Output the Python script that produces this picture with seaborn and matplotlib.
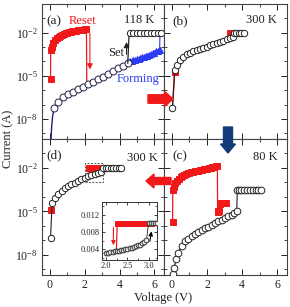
import matplotlib
matplotlib.use("Agg")
import matplotlib.pyplot as plt
import seaborn as sns
from matplotlib.patches import FancyArrow, Rectangle
from matplotlib.ticker import FixedLocator, NullFormatter

# ---- data -------------------------------------------------------------
# panel (a) 118 K
A_HRS_V = [0.05, 0.10, 0.16, 0.25, 0.48, 0.76, 1.05, 1.33, 1.62, 1.90, 2.19,
           2.48, 2.76, 3.05, 3.33, 3.62, 3.90, 4.19, 4.47]
A_HRS_I = [1e-10, 2.5e-9, 1.6e-8, 5.8e-8, 1.6e-7, 3.2e-7, 5.1e-7, 7.8e-7,
           1.15e-6, 1.7e-6, 2.6e-6, 3.9e-6, 6.0e-6, 8.7e-6, 1.35e-5, 2.1e-5,
           3.3e-5, 5.0e-5, 7.4e-5]
A_SET_V = [4.47, 4.55, 4.60, 4.80, 5.00, 5.20, 5.40, 5.60, 5.80, 6.00, 6.20, 6.40]
A_SET_I = [7.4e-5, 0.01, 0.01, 0.01, 0.01, 0.01, 0.01, 0.01, 0.01, 0.01, 0.01, 0.01]
A_FORM_V = [4.50, 4.60, 4.70, 4.80, 4.90, 5.00, 5.10, 5.20, 5.30, 5.40, 5.50,
            5.60, 5.70, 5.80, 5.90, 6.00, 6.10, 6.20, 6.30, 6.32]
A_FORM_I = [8.9e-5, 1.0e-4, 1.07e-4, 1.17e-4, 1.32e-4, 1.38e-4, 1.58e-4,
            1.66e-4, 2.0e-4, 2.04e-4, 2.4e-4, 2.5e-4, 3.0e-4, 3.2e-4, 4.0e-4,
            3.6e-4, 5.0e-4, 5.2e-4, 6.6e-4, 0.01]
A_RESET_V = [0.04, 0.05, 0.10, 0.20, 0.30, 0.40, 0.50, 0.60, 0.70, 0.80, 0.90,
             1.00, 1.10, 1.20, 1.30, 1.40, 1.50, 1.60, 1.70, 1.80, 1.90, 2.00,
             2.10, 2.12, 2.19, 2.48, 2.76, 3.05, 3.33]
A_RESET_I = [6.0e-6, 6.3e-4, 1.1e-3, 1.9e-3, 3.0e-3, 4.2e-3, 5.2e-3, 6.3e-3,
             7.2e-3, 8.1e-3, 9.1e-3, 1.0e-2, 1.07e-2, 1.15e-2, 1.23e-2, 1.32e-2,
             1.38e-2, 1.45e-2, 1.51e-2, 1.58e-2, 1.66e-2, 1.70e-2, 1.74e-2,
             2.7e-6, 2.8e-6, 4.1e-6, 6.3e-6, 9.1e-6, 1.4e-5]

# panel (b) 300 K
B_HRS_V = [0.03, 0.17, 0.30, 0.46, 0.65, 0.84, 1.03, 1.22, 1.41, 1.60, 1.79,
           1.98, 2.17, 2.36, 2.55, 2.74, 2.93, 3.12, 3.31, 3.47, 3.52, 3.65,
           3.80, 3.95, 4.10]
B_HRS_I = [5.8e-8, 2.5e-5, 5.6e-5, 1.26e-4, 2.1e-4, 3.2e-4, 4.0e-4, 5.0e-4,
           6.3e-4, 7.6e-4, 9.1e-4, 1.1e-3, 1.32e-3, 1.62e-3, 2.04e-3, 2.4e-3,
           2.8e-3, 3.4e-3, 4.1e-3, 5.0e-3, 0.01, 0.01, 0.01, 0.01, 0.01]
B_RED_V = [0.03, 0.15, 0.30, 0.46, 0.65, 0.84, 1.03, 1.22, 1.41, 1.60, 1.79,
           1.98, 2.17, 2.36, 2.55, 2.74, 2.93, 3.12, 3.28, 3.30, 3.40, 3.50,
           3.80, 4.10]
B_RED_I = [5.8e-8, 1.8e-5, 6.0e-5, 1.35e-4, 2.25e-4, 3.4e-4, 4.3e-4, 5.4e-4,
           6.8e-4, 8.1e-4, 9.8e-4, 1.18e-3, 1.41e-3, 1.74e-3, 2.2e-3, 2.6e-3,
           3.0e-3, 3.6e-3, 4.3e-3, 0.01, 0.01, 0.01, 0.01, 0.01]

# panel (c) 80 K
C_HRS_V = [0.05, 0.08, 0.14, 0.23, 0.36, 0.55, 0.74, 0.93, 1.12, 1.31, 1.50,
           1.69, 1.88, 2.07, 2.26, 2.45, 2.64, 2.83, 3.02, 3.21, 3.41, 3.55,
           3.69, 3.72, 3.80, 3.96, 4.12, 4.28, 4.44, 4.60, 4.76, 4.92, 5.08]
C_HRS_I = [1e-10, 4.5e-10, 1.3e-9, 4.9e-9, 1.4e-8, 4.2e-8, 9.3e-8, 1.32e-7,
           1.86e-7, 2.7e-7, 3.8e-7, 5.0e-7, 6.8e-7, 8.9e-7, 1.17e-6, 1.55e-6,
           2.0e-6, 2.6e-6, 3.5e-6, 4.6e-6, 6.0e-6, 7.6e-6, 9.8e-6, 2.8e-4,
           2.8e-4, 2.8e-4, 2.8e-4, 2.8e-4, 2.8e-4, 2.8e-4, 2.8e-4, 2.8e-4, 2.8e-4]
C_RED_V = [0.04, 0.05, 0.10, 0.20, 0.30, 0.40, 0.50, 0.60, 0.70, 0.80, 0.90,
           1.00, 1.10, 1.20, 1.30, 1.40, 1.50, 1.60, 1.70, 1.80, 1.90, 2.00,
           2.10, 2.20, 2.30, 2.40, 2.50, 2.59, 2.60, 2.65, 2.70, 2.75, 2.80,
           2.90, 3.00, 3.10]
C_RED_I = [1.95e-6, 3.2e-4, 5.0e-4, 8.9e-4, 1.32e-3, 1.78e-3, 2.24e-3, 2.75e-3,
           3.24e-3, 3.7e-3, 4.2e-3, 4.7e-3, 5.0e-3, 5.4e-3, 5.75e-3, 6.0e-3,
           6.5e-3, 6.9e-3, 7.4e-3, 7.9e-3, 8.5e-3, 9.1e-3, 9.8e-3, 1.05e-2,
           1.12e-2, 1.2e-2, 1.32e-2, 1.45e-2, 1.0e-5, 8.9e-6, 1.12e-5, 3.2e-5,
           3.5e-5, 3.8e-5, 4.0e-5, 4.0e-5]

# panel (d) 300 K
D_HRS_V = [0.04, 0.13, 0.29, 0.48, 0.67, 0.86, 1.05, 1.24, 1.43, 1.62, 1.81,
           2.00, 2.19, 2.38, 2.57, 2.76, 2.95, 3.05, 3.20, 3.35, 3.50, 3.65,
           3.80, 3.95, 4.10]
D_HRS_I = [1.4e-7, 3.9e-5, 8.9e-5, 1.66e-4, 2.7e-4, 4.0e-4, 5.5e-4, 7.4e-4,
           9.8e-4, 1.26e-3, 1.62e-3, 2.1e-3, 2.6e-3, 3.2e-3, 3.8e-3, 4.6e-3,
           5.6e-3, 0.01, 0.01, 0.01, 0.01, 0.01, 0.01, 0.01, 0.01]
D_RED_V = [0.04, 0.13, 0.29, 0.48, 0.67, 0.86, 1.05, 1.24, 1.43, 1.62, 1.81,
           2.00, 2.19, 2.25, 2.27, 2.35, 2.43, 2.51, 2.59, 2.67, 2.75, 2.83,
           2.91, 3.00, 3.50, 4.10]
D_RED_I = [1.15e-5, 4.3e-5, 9.6e-5, 1.8e-4, 2.9e-4, 4.3e-4, 5.9e-4, 7.9e-4,
           1.05e-3, 1.35e-3, 1.74e-3, 2.25e-3, 2.8e-3, 3.0e-3, 0.01, 0.01,
           0.01, 0.01, 0.01, 0.01, 0.01, 0.01, 0.01, 0.01, 0.01, 0.01]

# inset of (d), linear current scale
IN_HRS_V = [2.00, 2.05, 2.10, 2.15, 2.20, 2.25, 2.30, 2.35, 2.40, 2.45, 2.50,
            2.55, 2.60, 2.65, 2.70, 2.75, 2.80, 2.85, 2.90, 2.95, 3.00, 3.05,
            3.10, 3.15, 3.20]
IN_HRS_I = [0.0031, 0.0032, 0.0033, 0.0034, 0.0035, 0.0036, 0.0037, 0.0038,
            0.0039, 0.0040, 0.0041, 0.0042, 0.0044, 0.0045, 0.0047, 0.0049,
            0.0051, 0.0054, 0.0057, 0.0061, 0.0100, 0.0100, 0.0100, 0.0100,
            0.0100]
IN_RED_V = [1.95, 2.00, 2.05, 2.10, 2.15, 2.20, 2.24, 2.26, 2.30, 2.35, 2.40,
            2.45, 2.50, 2.55, 2.60, 2.65, 2.70, 2.75, 2.80, 2.85, 2.90, 2.95,
            3.00, 3.05]
IN_RED_I = [0.0031, 0.0033, 0.0034, 0.0035, 0.0036, 0.0037, 0.0038, 0.0100,
            0.0100, 0.0100, 0.0100, 0.0100, 0.0100, 0.0100, 0.0100, 0.0100,
            0.0100, 0.0100, 0.0100, 0.0100, 0.0100, 0.0100, 0.0100, 0.0100]

XTICKS = [0, 2, 4, 6]
YTICKS = [1e-8, 1e-5, 1e-2]
YTICK_LABELS = ["10$^{-8}$", "10$^{-5}$", "10$^{-2}$"]
IN_XTICKS = [2.0, 2.5, 3.0]
IN_XTICK_LABELS = ["2.0", "2.5", "3.0"]
IN_YTICKS = [0.004, 0.008, 0.012]
IN_YTICK_LABELS = ["0.004", "0.008", "0.012"]

RED = "#f01818"
NAVY = "#1a2370"
BLUE = "#2b3cf5"
DARK = "#222222"

# ---- style ------------------------------------------------------------
sns.set_theme(style="ticks")
plt.rcParams["font.family"] = ["Liberation Serif", "DejaVu Serif"]
plt.rcParams["mathtext.fontset"] = "custom"
plt.rcParams["mathtext.rm"] = "Liberation Serif"
plt.rcParams["mathtext.it"] = "Liberation Serif:italic"
plt.rcParams["axes.linewidth"] = 0.8


def trace(ax, v, i, color, marker=None, ms=4, mfc=None, mec=None,
          markevery=None, lw=0.9, z=2):
    sns.lineplot(x=v, y=i, ax=ax, estimator=None, sort=False, color=color,
                 marker=marker, markersize=ms,
                 markerfacecolor=mfc if mfc else color,
                 markeredgecolor=mec if mec else color,
                 markeredgewidth=0.7, markevery=markevery, linewidth=lw,
                 zorder=z)


def style_axes(ax, show_x, show_y):
    ax.set_yscale("log")
    ax.set_xlim(-0.45, 6.55)
    ax.set_ylim(10 ** -9.4, 1)
    ax.yaxis.set_major_locator(FixedLocator(YTICKS))
    ax.yaxis.set_minor_locator(
        FixedLocator([1e-9, 1e-7, 1e-6, 1e-4, 1e-3, 1e-1, 1]))
    ax.yaxis.set_minor_formatter(NullFormatter())
    ax.set_yticklabels(YTICK_LABELS)
    ax.set_xticks(XTICKS)
    ax.set_xticks([1, 3, 5], minor=True)
    ax.set_xlabel("")
    ax.set_ylabel("")
    ax.tick_params(which="both", direction="in", top=True, right=True,
                   labelsize=8.5, pad=3, colors=DARK)
    ax.tick_params(which="major", length=4, width=0.7)
    ax.tick_params(which="minor", length=2.2, width=0.6)
    ax.tick_params(labelbottom=show_x, labelleft=show_y)
    for s in ax.spines.values():
        s.set_color("#444444")


fig = plt.figure(figsize=(2.9, 3.07), dpi=100)
ax_a = fig.add_axes([0.1448, 0.5472, 0.4207, 0.4397])
ax_b = fig.add_axes([0.5655, 0.5472, 0.4241, 0.4397])
ax_d = fig.add_axes([0.1448, 0.1042, 0.4207, 0.4430])
ax_c = fig.add_axes([0.5655, 0.1042, 0.4241, 0.4430])

# (a)
trace(ax_a, A_FORM_V, A_FORM_I, BLUE, marker="^", ms=4.0,
      markevery=slice(0, 19), lw=0.8, z=2)
trace(ax_a, A_RESET_V, A_RESET_I, RED, marker="s", ms=4.3,
      markevery=slice(0, 23), lw=0.9, z=3)
trace(ax_a, A_HRS_V, A_HRS_I, NAVY, marker="o", ms=5.0, mfc="white",
      mec="#20204a", markevery=slice(3, None), lw=1.0, z=4)
trace(ax_a, A_SET_V, A_SET_I, DARK, marker="o", ms=4.5, mfc="white",
      mec=DARK, markevery=slice(2, None), lw=0.9, z=4)
style_axes(ax_a, False, True)
ax_a.text(0.04, 0.87, "(a)", transform=ax_a.transAxes, fontsize=9.5,
          va="center", ha="left", color=DARK)
ax_a.text(0.335, 0.875, "Reset", transform=ax_a.transAxes, fontsize=9,
          va="center", ha="center", color=RED)
ax_a.text(0.92, 0.88, "118 K", transform=ax_a.transAxes, fontsize=9,
          va="center", ha="right", color=DARK)
ax_a.text(0.675, 0.64, "Set", transform=ax_a.transAxes, fontsize=9,
          va="center", ha="right", color=DARK)
ax_a.text(0.79, 0.445, "Forming", transform=ax_a.transAxes, fontsize=9,
          va="center", ha="center", color=BLUE)
ax_a.annotate("", xy=(4.4, 10 ** -2.45), xytext=(4.4, 10 ** -3.7),
              arrowprops=dict(arrowstyle="-|>", color=DARK, lw=0.8,
                              mutation_scale=8))
ax_a.annotate("", xy=(2.3, 10 ** -4.75), xytext=(2.3, 10 ** -1.85),
              arrowprops=dict(arrowstyle="-|>", color=RED, lw=0.8,
                              mutation_scale=8))

# (b)
trace(ax_b, B_RED_V, B_RED_I, RED, marker="s", ms=4.0,
      markevery=[1, 19, 20, 21], lw=1.0, z=2)
trace(ax_b, B_HRS_V, B_HRS_I, DARK, marker="o", ms=4.6, mfc="white",
      mec=DARK, lw=0.8, z=3)
style_axes(ax_b, False, False)
ax_b.text(0.065, 0.87, "(b)", transform=ax_b.transAxes, fontsize=9.5,
          va="center", ha="left", color=DARK)
ax_b.text(0.92, 0.88, "300 K", transform=ax_b.transAxes, fontsize=9,
          va="center", ha="right", color=DARK)

# (c)
trace(ax_c, C_RED_V, C_RED_I, RED, marker="s", ms=4.0, lw=0.9, z=2)
trace(ax_c, C_HRS_V, C_HRS_I, DARK, marker="o", ms=4.8, mfc="white",
      mec=DARK, markevery=slice(1, None), lw=0.8, z=3)
style_axes(ax_c, True, False)
ax_c.text(0.065, 0.875, "(c)", transform=ax_c.transAxes, fontsize=9.5,
          va="center", ha="left", color=DARK)
ax_c.text(0.92, 0.868, "80 K", transform=ax_c.transAxes, fontsize=9,
          va="center", ha="right", color=DARK)

# (d)
trace(ax_d, D_RED_V, D_RED_I, RED, marker="s", ms=4.3,
      markevery=[0] + list(range(14, 24)), lw=1.0, z=2)
trace(ax_d, D_HRS_V, D_HRS_I, DARK, marker="o", ms=4.6, mfc="white",
      mec=DARK, lw=0.8, z=3)
style_axes(ax_d, True, True)
ax_d.text(0.04, 0.88, "(d)", transform=ax_d.transAxes, fontsize=9.5,
          va="center", ha="left", color=DARK)
ax_d.text(0.95, 0.86, "300 K", transform=ax_d.transAxes, fontsize=9,
          va="center", ha="right", color=DARK)
ax_d.add_patch(Rectangle((2.0, 1.07e-3), 1.05, 0.0224 - 1.07e-3, fill=False,
                         ls=(0, (2, 1.5)), lw=0.7, ec="#555555", zorder=5))

# inset
ax_in = fig.add_axes([102 / 290, (307 - 260) / 307, 55 / 290, 58 / 307])
trace(ax_in, IN_RED_V, IN_RED_I, RED, marker="s", ms=3.6,
      markevery=slice(7, None), lw=0.9, z=2)
trace(ax_in, IN_HRS_V, IN_HRS_I, DARK, marker="o", ms=3.4, mfc="#f2f2f2",
      mec="#333333", lw=0.6, z=3)
ax_in.set_xlim(1.9, 3.2)
ax_in.set_ylim(0.0015, 0.015)
ax_in.set_xticks(IN_XTICKS)
ax_in.set_xticklabels(IN_XTICK_LABELS)
ax_in.set_xticks([2.25, 2.75], minor=True)
ax_in.set_yticks(IN_YTICKS)
ax_in.set_yticklabels(IN_YTICK_LABELS)
ax_in.set_yticks([0.002, 0.006, 0.010, 0.014], minor=True)
ax_in.set_xlabel("")
ax_in.set_ylabel("")
ax_in.tick_params(which="both", direction="in", top=True, right=True,
                  labelsize=6, pad=1.5, colors=DARK)
ax_in.tick_params(which="major", length=2.5, width=0.6)
ax_in.tick_params(which="minor", length=1.5, width=0.5)
for s in ax_in.spines.values():
    s.set_color("#333333")
    s.set_linewidth(0.7)
ax_in.annotate("", xy=(2.17, 0.0043), xytext=(2.17, 0.0097),
               arrowprops=dict(arrowstyle="-|>", color=RED, lw=0.8,
                               mutation_scale=6))
ax_in.annotate("", xy=(3.08, 0.0088), xytext=(3.02, 0.0052),
               arrowprops=dict(arrowstyle="-|>", color="black", lw=0.8,
                               mutation_scale=6))

# block arrows between the panels (figure inches)
fig.add_artist(FancyArrow(1.48, 2.08, 0.25, 0, width=0.085, head_width=0.15,
                          head_length=0.085, length_includes_head=True,
                          color=RED, transform=fig.dpi_scale_trans, zorder=10))
fig.add_artist(FancyArrow(2.28, 1.80, 0, -0.26, width=0.09, head_width=0.15,
                          head_length=0.09, length_includes_head=True,
                          color="#123a78", transform=fig.dpi_scale_trans,
                          zorder=10))
fig.add_artist(FancyArrow(1.71, 1.26, -0.25, 0, width=0.07, head_width=0.14,
                          head_length=0.08, length_includes_head=True,
                          color=RED, transform=fig.dpi_scale_trans, zorder=10))

fig.text(0.028, 0.547, "Current (A)", rotation=90, ha="center", va="center",
         fontsize=9, color=DARK)
fig.text(163 / 290, 9 / 307, "Voltage (V)", ha="center", va="center",
         fontsize=9, color=DARK)

fig.savefig("out.png", dpi=100)
